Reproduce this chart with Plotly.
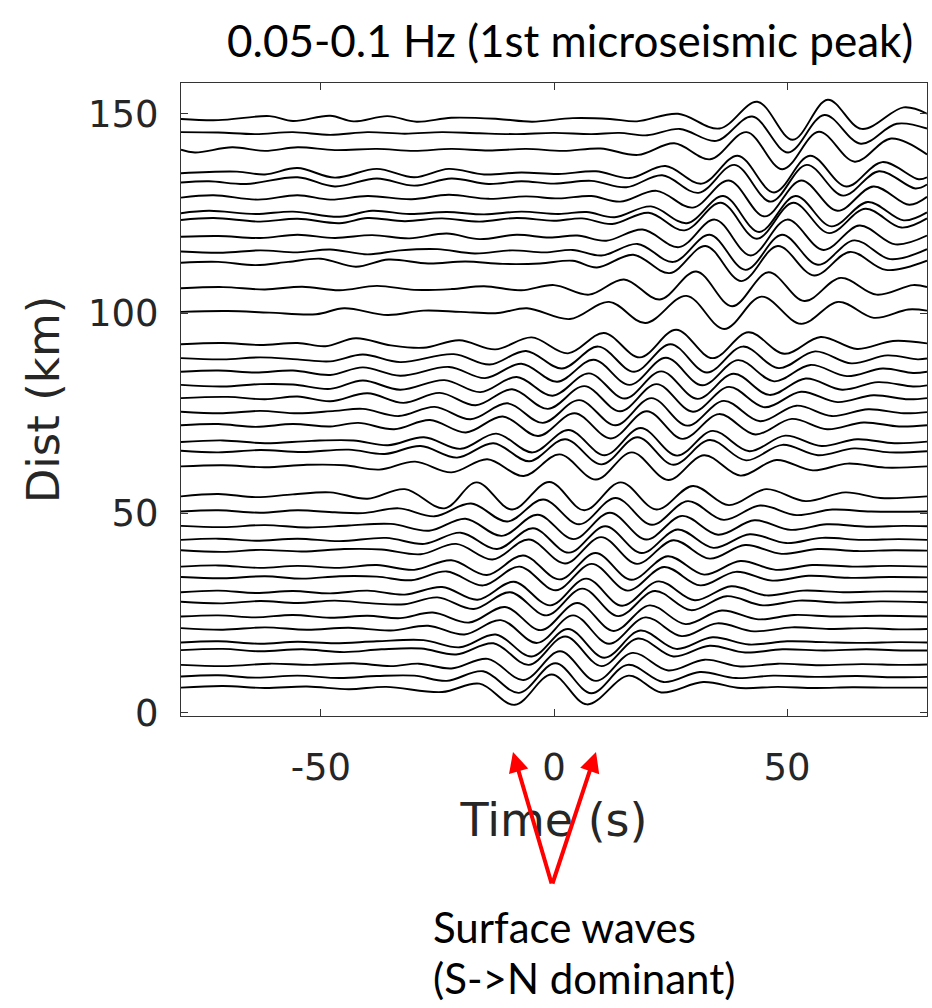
import plotly.graph_objects as go

# ---------------- data ----------------
trace_dist = [6.3, 9.0, 12.0, 15.6, 17.6, 21.0, 24.1, 27.7, 30.2, 33.9, 36.6, 40.6, 43.3,
              46.7, 50.4, 54.2, 61.7, 65.5, 67.8, 72.0, 75.3, 78.8, 82.0, 85.4, 88.7, 92.3,
              100.4, 106.3, 112.7, 115.5, 119.2, 123.4, 125.1, 129.0, 132.8, 135.1, 141.0,
              145.1, 148.7]

# knot times (s) of each trace's wiggle (peaks / troughs / noise points)
knot_t = [
    [-80,-71,-62,-53,-44,-36,-24,-16,-8.4,-0.5,7.1,16,23,32,40,48,56,64,72,80],
    [-80,-72,-64,-55,-46,-38,-30,-23,-15.2,-7.5,0.3,8,15.8,23.5,31.3,39,47,56,65,73,80],
    [-80,-70,-61,-52,-43,-35,-29,-22,-14.2,-6.5,1.3,9,16.8,24.5,32.3,40,48,57,66,74,80],
    [-80,-71,-63,-54,-45,-37,-28.5,-21,-13,-5.4,2.4,10.2,18,25.6,33.4,41,49,58,67,75,80],
    [-80,-72,-63,-55,-47,-38,-28,-20.2,-12.5,-4.8,3,10.8,18.5,26.2,34,41.8,50,58,66,74,80],
    [-80,-71,-62,-53,-44,-35,-27,-19.2,-11.4,-3.6,4.1,11.8,19.6,27.4,35,42.9,51,59,67,74,80],
    [-80,-72,-64,-56,-48,-40,-33,-26,-18.2,-10.5,-2.8,5,12.8,20.5,28.2,36,43.8,51.5,60,70,80],
    [-80,-71,-63,-55,-47,-39,-32,-25,-17.2,-9.4,-1.6,6.1,13.8,21.6,29.4,37,44.8,52.6,61,70,80],
    [-80,-72,-64,-56,-48,-40,-32,-24,-16.4,-8.6,-0.8,6.9,14.6,22.4,30.2,38,45.6,53.4,62,71,80],
    [-80,-71,-62,-54,-46,-38,-30.6,-23,-15.2,-7.4,0.4,8.1,15.8,23.6,31.4,39,46.8,54.6,63,72,80],
    [-80,-72,-63,-55,-46,-38,-30,-22,-14.4,-6.6,1.2,8.9,16.6,24.4,32.2,40,47.6,55.4,64,72,80],
    [-80,-71,-63,-54,-45,-37,-28.6,-21,-13.2,-5.4,2.4,10.1,17.8,25.6,33.4,41,48.8,56.6,65,73,80],
    [-80,-72,-64,-55,-46,-36,-27.8,-20,-12.2,-4.5,3.2,11,18.8,26.5,34.2,42,49.8,57.5,66,74,80],
    [-80,-71,-62,-53,-44,-35,-26.8,-19,-11.2,-3.5,4.2,12,19.8,27.5,35.2,43,50.8,58.5,67,75,80],
    [-80,-72,-63,-55,-47,-41,-33.3,-25.6,-17.8,-10,-2.3,5.4,13.2,21,28.7,36.4,44.2,52,59.7,68,80],
    [-80,-72,-64,-56,-48,-40,-32,-23.5,-16.6,-9,-1,6.5,14.3,22,29.8,37.5,45.5,54,62.5,70,80],
    [-80,-71,-62,-53,-45,-37.5,-29.8,-22,-14.3,-6.5,1.2,9,16.7,24.5,32.2,40,47.7,55.5,63,71,80],
    [-80,-72,-63,-54,-44,-36.3,-28.6,-20.8,-13,-5.3,2.4,10.2,17.9,25.6,33.4,41.2,49,56.6,64.4,72,80],
    [-80,-71,-62,-52,-43,-35.6,-27.9,-20,-12.4,-4.6,3.1,10.9,18.6,26.4,34,41.9,49.6,57.4,65,73,80],
    [-80,-72,-64,-56,-48,-42,-34.3,-26.6,-18.9,-11,-3.4,4.4,12.2,19.9,27.6,35.4,43.2,51,58.6,66.4,74,80],
    [-80,-71,-63,-55,-47,-41,-33.3,-25.6,-17.9,-10,-2.4,5.4,13.2,20.9,28.6,36.4,44.2,52,59.6,67.4,75,80],
    [-80,-70,-62,-55,-48,-40,-32.3,-24.5,-16.8,-9,-1.3,6.5,14.2,22,29.8,37.5,45.2,53,60.8,68.5,76,80],
    [-80,-71,-63,-56,-48,-41,-33,-23.5,-15.8,-8,-0.3,7.5,15.2,23,30.8,38.5,46.2,54,61.8,69.5,77,80],
    [-80,-72,-64,-56,-48,-41,-33,-22.5,-14.8,-7,0.7,8.5,16.2,24,31.8,39.5,47.2,55,62.8,70.5,77,80],
    [-80,-71,-63,-55,-48,-41,-33,-21.5,-13.8,-6,1.7,9.5,17.2,25,32.8,40.5,48.2,56,63.8,71.5,78,80],
    [-80,-71,-63,-55,-49,-42.5,-35,-28,-20.3,-12.6,-4.8,3,10.7,18.4,26.2,34,41.7,49.4,57.2,65,72.7,80],
    [-80,-70,-61,-51,-45,-35.7,-28,-20,-12,-5.8,3.4,11.8,19.6,28.4,36.5,44.5,53,61,68.6,76,80],
    [-80,-71,-62,-54,-46,-38,-30,-22,-15,-7,0,7.5,15,22.7,30.5,38.2,46,53.7,61.5,69.2,77,80],
    [-80,-72,-64,-57,-50,-42.5,-35.5,-27,-19,-11,-3,4,9.2,17,24.8,32.5,40.2,48,55.8,63.5,71.2,80],
    [-80,-71,-63,-55,-48,-40,-33,-25,-17,-9,-2,4,10.2,17.9,25.6,33.4,41.1,48.9,56.6,64.4,72.1,80],
    [-80,-72,-63,-55,-47,-39,-31,-23,-16,-8,-1,5,11.2,19,26.8,34.5,42.2,50,57.8,65.5,73.2,80],
    [-80,-73,-63,-55,-46,-40,-32,-24,-16,-8,0,6,12.5,20.3,28,35.8,43.5,51.3,59,66.8,74.5,80],
    [-80,-74,-64,-56,-46,-39,-31,-23,-15,-7,1,7,13,20.8,28.5,36.3,44,51.8,59.5,67.3,75,80],
    [-80,-73,-63.5,-55,-48,-40,-30.5,-22.6,-14,-6,1,8,14.2,22,29.8,37.5,45.2,53,60.8,68.5,76.2,80],
    [-80,-74,-66,-55,-47,-38,-30,-22,-14,-7,0,8,15.5,23.2,31,38.7,46.5,54.2,62,69.7,77.5,80],
    [-80,-68,-62,-55,-47,-38,-30,-22.6,-15,-7,1,9,16.2,23.9,31.7,39.4,47.2,54.9,62.7,70.4,78.2,80],
    [-80,-77,-69,-62,-55,-47,-38,-30,-22,-14,-6,2,10,18,25.8,33.5,41.3,49,56.8,64.5,72.3,80],
    [-80,-72,-64,-56,-48,-40,-32,-24,-16,-8,0,8,14,20,27,34.8,42.5,50.2,58,65.8,73.5,80],
    [-80,-72,-61,-56,-48,-43,-35.7,-29.5,-22,-12,-4.7,4,12,17.8,26.6,35.5,43.6,51.2,58.7,66,75,80],
]

# wiggle amplitude (km) at each knot
knot_a = [
    [0,0.4,-0.1,0.3,-0.4,0.2,-1.1,1.0,-4.3,3.3,-4.2,3.0,-1.2,1.4,-0.1,0.2,-0.1,0.1,0,0],
    [0.1,0.4,-0.2,0.3,-0.3,0.2,0.3,-1.0,1.4,-4.0,3.4,-4.1,3.0,-1.3,1.2,-0.3,0.3,0,0.2,-0.1,0],
    [0,-0.3,0.3,0,0.4,-0.3,0.3,-0.9,1.5,-3.8,3.4,-4.0,3.0,-1.4,1.3,-0.4,0.3,-0.1,0.2,0,0.1],
    [0.1,0.4,-0.2,0.3,-0.4,0.3,0.5,-1.0,1.8,-3.6,3.5,-3.9,3.0,-1.5,1.2,-0.5,0.3,0,0.3,0,0],
    [0,0.3,-0.3,0.2,-0.2,0.3,0.6,-1.2,2.0,-3.5,3.4,-3.8,3.0,-1.6,1.3,-0.5,0.3,0.1,-0.1,0.1,0],
    [0.2,-0.2,0.4,-0.2,0.3,-0.4,0.8,-1.4,2.2,-3.5,3.4,-3.7,2.9,-1.8,1.4,-0.6,0.4,0,0.2,-0.1,0],
    [0,0.3,-0.2,0.4,-0.3,0.2,-0.4,1.0,-1.5,2.4,-3.4,3.4,-3.6,2.8,-1.9,1.5,-0.7,0.4,0,0.2,0],
    [0.1,-0.3,0.3,-0.2,0.4,-0.3,-0.5,1.2,-1.7,2.5,-3.3,3.4,-3.5,2.8,-2.0,1.5,-0.8,0.4,-0.1,0.2,0],
    [0,0.4,-0.2,0.3,-0.3,0.4,-0.6,1.3,-1.9,2.6,-3.3,3.4,-3.4,2.7,-2.0,1.5,-0.8,0.4,0,0.2,0.1],
    [0.1,-0.2,0.3,-0.3,0.3,0.2,-0.7,1.5,-2.0,2.7,-3.2,3.4,-3.3,2.6,-2.0,1.4,-0.8,0.4,-0.1,0.1,0],
    [0,0.3,-0.3,0.2,-0.3,0.4,-0.8,1.6,-2.1,2.8,-3.2,3.4,-3.3,2.6,-2.0,1.4,-0.8,0.4,0,0.2,0],
    [0.1,-0.3,0.2,-0.2,0.4,0.3,-0.9,1.7,-2.2,2.8,-3.2,3.4,-3.3,2.6,-2.0,1.4,-0.8,0.4,-0.1,0.1,0],
    [0,0.3,-0.2,0.3,-0.3,0.5,-1.0,1.8,-2.3,2.9,-3.2,3.4,-3.3,2.6,-2.0,1.4,-0.8,0.5,0,0.2,0],
    [0.1,-0.2,0.3,-0.3,0.2,0.6,-1.1,1.9,-2.4,2.9,-3.2,3.4,-3.3,2.6,-2.1,1.5,-0.9,0.5,-0.1,0.1,0],
    [0,0.3,-0.3,0.3,-0.2,-0.4,0.8,-1.2,2.0,-2.5,3.0,-3.2,3.4,-3.3,2.6,-2.1,1.5,-0.9,0.5,0,0],
    [0,0.6,-0.2,0.5,1.0,-0.6,1.8,-3.0,3.5,-3.3,3.6,-3.5,3.5,-3.3,2.6,-2.2,1.8,-1.2,1.0,-0.4,0],
    [0,0.3,-0.2,0.4,0.3,-0.8,1.2,-1.5,1.8,-2.4,3.0,-3.3,3.5,-3.4,2.8,-2.3,1.6,-1.0,0.7,-0.3,0],
    [0.1,-0.3,0.3,-0.2,0.4,-0.7,1.3,-1.6,2.0,-2.5,3.0,-3.3,3.5,-3.4,2.8,-2.3,1.6,-1.0,0.7,-0.3,0],
    [0,0.4,-0.3,0.3,0.4,-0.8,1.2,-1.7,2.1,-2.6,3.0,-3.3,3.5,-3.4,2.8,-2.3,1.6,-1.0,0.7,-0.3,0.1],
    [0,0.3,-0.4,0.3,-0.3,0.6,-1.0,1.3,-1.8,2.2,-2.7,3.0,-3.3,3.5,-3.4,2.8,-2.3,1.6,-1.0,0.7,-0.3,0],
    [0.1,-0.3,0.3,-0.3,0.3,0.8,-1.0,1.3,-1.8,2.2,-2.7,3.0,-3.3,3.5,-3.4,2.8,-2.3,1.6,-1.0,0.7,-0.3,0],
    [0,0.3,-0.3,0.4,-0.8,1.2,-1.2,1.3,-1.8,2.2,-2.7,3.0,-3.3,3.5,-3.4,2.8,-2.3,1.6,-1.0,0.7,-0.3,0],
    [0.1,-0.3,0.3,0.2,-0.9,1.2,-1.1,1.3,-1.7,2.1,-2.6,3.0,-3.3,3.5,-3.4,2.9,-2.4,1.7,-1.1,0.8,-0.3,0],
    [0,0.3,-0.2,0.3,-0.8,1.1,-1.0,1.2,-1.6,2.0,-2.5,3.0,-3.3,3.5,-3.4,2.9,-2.4,1.7,-1.1,0.8,-0.3,0],
    [0.1,-0.2,0.3,-0.2,-0.7,1.0,-0.9,1.1,-1.5,1.9,-2.5,3.0,-3.3,3.6,-3.5,3.0,-2.4,1.8,-1.2,0.8,-0.2,0],
    [0,0.3,-0.2,0.3,-0.5,1.5,-0.3,-0.9,1.0,-1.3,1.7,-2.3,2.8,-3.3,3.6,-3.5,3.0,-2.4,1.8,-1.2,0.8,0.2],
    [0,0.2,-0.2,-0.6,0.9,-0.8,0.3,0,-0.3,0.9,-1.8,2.5,-2.8,4.0,-4.3,3.8,-3.0,2.5,-1.5,0.6,0.3],
    [0,0.3,-0.3,0.4,-0.5,0.6,-0.4,-0.2,0.5,-0.5,0.8,-1.6,2.2,-2.8,4.2,-4.5,4.0,-3.2,2.6,-1.6,0.8,0.3],
    [0,0.2,-0.6,0.2,1.0,-1.0,0.8,-0.2,0.3,-0.3,-0.2,0.5,-1.2,2.0,-2.6,4.2,-4.6,4.2,-3.2,2.7,-1.8,0.5],
    [0,-0.3,0.3,-0.2,0.5,-0.7,0.3,0.6,-0.5,0.3,-0.2,0.4,-1.0,1.9,-2.6,4.2,-4.6,4.2,-3.3,2.8,-1.9,0.6],
    [0,0.2,-0.3,0.5,-0.3,0.4,-0.4,0.8,-0.6,0.5,-0.2,0.3,-1.0,1.8,-2.6,4.3,-4.7,4.3,-3.3,2.8,-1.9,0.3],
    [0,0.5,-0.4,0.3,-0.8,0.5,-0.3,0.4,-0.4,0.5,-0.2,0.4,-1.0,1.8,-2.6,4.3,-4.7,4.3,-3.3,2.8,-1.9,0.4],
    [0,0.6,-0.2,0.4,-0.9,0.6,-0.2,0.3,-0.3,0.4,-0.2,0.3,-1.0,1.7,-2.5,4.3,-4.7,4.3,-3.3,2.8,-1.8,0.2],
    [0,0.6,-0.5,0.6,-0.5,0.4,-0.4,0.7,-0.3,0.3,-0.2,0.4,-1.0,1.7,-2.5,4.3,-4.7,4.3,-3.3,2.8,-1.8,0.2],
    [0,0.3,-0.4,1.3,-1.0,1.0,-0.8,1.0,-0.4,0.3,-0.3,0.4,-1.2,1.8,-2.6,4.4,-4.8,4.4,-3.3,2.8,-1.5,-0.5],
    [0,0.4,-0.3,1.3,-1.1,1.1,-1.0,1.1,-0.3,0.2,-0.2,0.5,-1.2,1.8,-2.6,4.4,-4.8,4.4,-3.3,2.8,-1.5,-1.0],
    [0,-0.7,0.6,-0.3,0.6,-0.1,0.2,-0.3,0.2,-0.2,0.2,-0.3,0.3,-1.3,1.6,-2.4,4.4,-4.9,4.5,-3.0,2.8,-1.2],
    [0.3,0.2,-0.2,0.3,-0.4,0.3,-0.1,0.3,0,-0.2,0.1,-0.2,0.1,-0.5,1.1,-1.9,4.2,-4.8,4.6,-2.6,2.4,1.2],
    [0,-0.3,0.7,-0.5,0.8,-0.6,0.7,-0.7,0.3,0,-0.7,0.2,0,-0.6,1.3,-2.4,4.3,-5.2,4.8,-2.5,2.9,1.3],
]

x_ticks = [-50, 0, 50]
y_ticks = [0, 50, 100, 150]
title_text = "0.05-0.1 Hz (1st microseismic peak)"
note_lines = ["Surface waves", "(S->N dominant)"]

# ---------------- figure ----------------
fig = go.Figure()
for d, ts, amps in zip(trace_dist, knot_t, knot_a):
    n = min(len(ts), len(amps))
    fig.add_trace(go.Scatter(
        x=ts[:n], y=[d + a for a in amps[:n]], mode="lines",
        line=dict(color="black", width=1.9, shape="spline", smoothing=1.0),
        hoverinfo="skip", showlegend=False))

axis_col = "#333333"
tick_font = dict(family="DejaVu Sans", size=37, color="#262626")

fig.update_layout(
    width=932, height=1008,
    margin=dict(l=181, r=5, t=83, b=292),
    paper_bgcolor="white", plot_bgcolor="white",
    showlegend=False,
    xaxis=dict(range=[-80, 80], tickvals=x_ticks, ticktext=[str(v) for v in x_ticks],
               ticks="inside", ticklen=7, tickcolor=axis_col, tickwidth=1,
               showline=True, linecolor=axis_col, linewidth=1.2, mirror="ticks",
               showgrid=False, zeroline=False, tickfont=tick_font, ticklabelstandoff=18,
               title=dict(text="Time (s)", font=dict(family="DejaVu Sans", size=46, color="#262626"),
                          standoff=16)),
    yaxis=dict(range=[-0.8, 157.7], tickvals=y_ticks, ticktext=[str(v) for v in y_ticks],
               ticks="inside", ticklen=7, tickcolor=axis_col, tickwidth=1,
               showline=True, linecolor=axis_col, linewidth=1.2, mirror="ticks",
               showgrid=False, zeroline=False, tickfont=tick_font, ticklabelstandoff=14,
               title=dict(text="Dist (km)", font=dict(family="DejaVu Sans", size=45, color="#262626"),
                          standoff=14)),
)

# title (top-right)
fig.add_annotation(text=title_text, xref="paper", yref="paper",
                   x=(915 - 181) / 746, y=(716 - 40) / 633, xanchor="right", yanchor="middle",
                   showarrow=False, font=dict(family="Lato", size=44, color="black"))

# red arrows
fig.add_annotation(x=(513 - 181) / 746, y=(716 - 752) / 633, xref="paper", yref="paper",
                   ax=39, ay=133, showarrow=True, arrowhead=2, arrowsize=1, arrowwidth=4,
                   arrowcolor="#ff0000", text="")
fig.add_annotation(x=(596 - 181) / 746, y=(716 - 752) / 633, xref="paper", yref="paper",
                   ax=-44, ay=133, showarrow=True, arrowhead=2, arrowsize=1, arrowwidth=4,
                   arrowcolor="#ff0000", text="")

# note below
note_y = [927, 978]
for line, yc in zip(note_lines, note_y):
    fig.add_annotation(text=line, xref="paper", yref="paper",
                       x=(432 - 181) / 746, y=(716 - yc) / 633,
                       xanchor="left", yanchor="middle", showarrow=False, borderpad=0,
                       font=dict(family="Lato", size=42, color="black"))

fig.write_html("out.html")
